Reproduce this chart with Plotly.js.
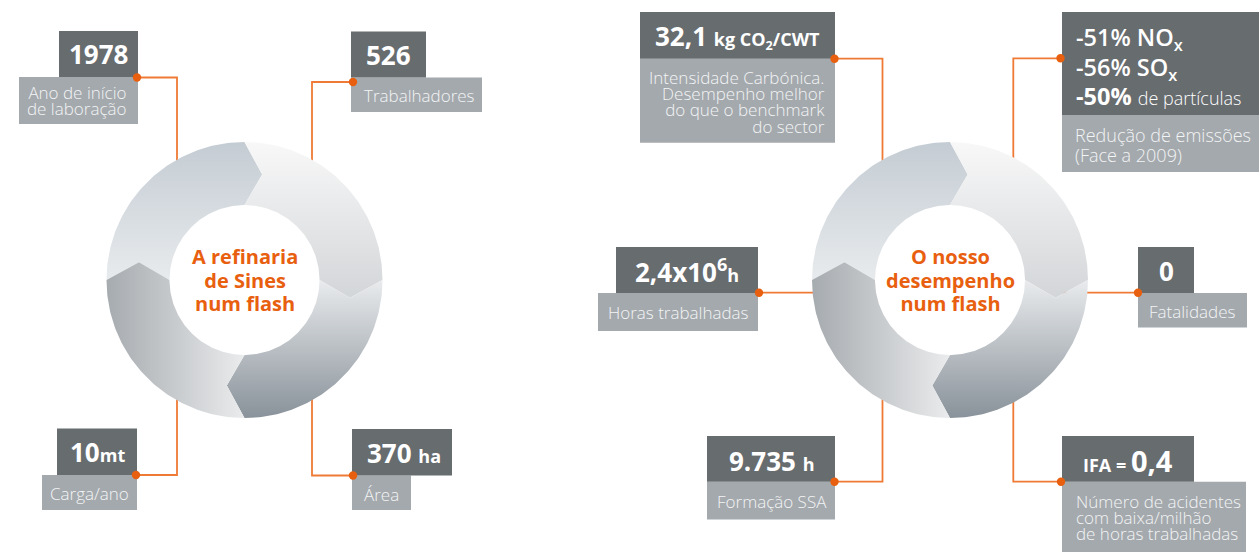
<!DOCTYPE html>
<html>
<head>
<meta charset="utf-8">
<script src="https://cdn.plot.ly/plotly-3.0.1.min.js"></script>
<style>
  html, body { margin: 0; padding: 0; background: #ffffff; }
  #chart { width: 1259px; height: 552px; }
</style>
</head>
<body>
<div id="chart"></div>
<script>
// ---------------- content ----------------
const leftTitle = ['A refinaria', 'de Sines', 'num flash'];
const rightTitle = ['O nosso', 'desempenho', 'num flash'];

const leftValues = [
  '1978',
  '526',
  '10<span style="font-size:18px">mt</span>',
  '370 <span style="font-size:18px">ha</span>'
];
const leftLabels = [
  ['Ano de início', 'de laboração'],
  ['Trabalhadores'],
  ['Carga/ano'],
  ['Área']
];

const rightValues = [
  '32,1 <span style="font-size:18px">kg CO<sub>2</sub>/CWT</span>',
  ['-51% NO<sub>x</sub>', '-56% SO<sub>x</sub>', '<b>-50%</b> <span style="font-size:18px;font-weight:300">de partículas</span>'],
  '2,4x10<sup>6</sup><span style="font-size:18px">h</span>',
  '0',
  '9.735 <span style="font-size:18px">h</span>',
  '<span style="font-size:18px">IFA = </span><span style="font-size:29px">0,4</span>'
];
const rightLabels = [
  ['Intensidade Carbónica.', 'Desempenho melhor', 'do que o benchmark', 'do sector'],
  ['Redução de emissões', '(Face a 2009)'],
  ['Horas trabalhadas'],
  ['Fatalidades'],
  ['Formação SSA'],
  ['Número de acidentes', 'com baixa/milhão', 'de horas trabalhadas']
];

// ---------------- styling / layout ----------------
const COL = {
  dark: '#676c6f', light: '#a4a9ad', orange: '#e8600f', line: '#ef7a36',
  valueText: '#ffffff', labelText: '#f3f4f5'
};
const FONT = '"Open Sans", Lato, sans-serif';
const LINE_SPACING = 1.3; // Plotly's line pitch factor

const donuts = [
  { cx: 244.5, cy: 280, title: leftTitle },
  { cx: 950, cy: 280, title: rightTitle }
];
const R_OUT = 138, R_IN = 75, R_MID = 107, TIP = 9.5;

const segStyles = [
  { a0: 180, a1: 90, type: 'vertical', from: -138, to: 5, c0: '#c4ccd3', c1: '#e9ecee' },
  { a0: 90, a1: 0, type: 'vertical', from: -138, to: 25, c0: '#f8f8f8', c1: '#d1d4d7' },
  { a0: 0, a1: -90, type: 'vertical', from: 0, to: 138, c0: '#e9ebed', c1: '#89929a' },
  { a0: -90, a1: -180, type: 'horizontal', from: -138, to: 10, c0: '#a6abaf', c1: '#eff0f1' }
];

const leftBoxes = [
  { dark: [59, 31, 138, 77], light: [19, 77, 138, 124], vx: 98.5, vy: 54, lx: 128, la: 'right', ly: 92, ls: 16.3, dot: [137, 77.5], elbow: 177 },
  { dark: [351, 31.5, 426, 77.5], light: [351, 77.5, 482, 112], vx: 388.5, vy: 54.5, lx: 363, la: 'left', ly: 95, ls: 16, dot: [353, 82], elbow: 312 },
  { dark: [57, 428.5, 137, 475], light: [42, 475, 137, 510], vx: 97.5, vy: 452, lx: 89.5, la: 'center', ly: 493, ls: 16, dot: [136, 475], elbow: 177 },
  { dark: [352, 429, 452, 475.5], light: [352, 475.5, 411, 510], vx: 404, vy: 452.5, lx: 381.5, la: 'center', ly: 494, ls: 16, dot: [353, 475.5], elbow: 312 }
];
const rightBoxes = [
  { dark: [640, 12, 835, 58.7], light: [640, 58.7, 835, 142.7], vx: 737.5, vy: 35.5, lx: 826, la: 'right', ly: 77.5, ls: 16.2, dot: [834.5, 58.7], elbow: 882.5 },
  { dark: [1062, 12, 1259, 115], light: [1062, 115, 1259, 172], vx: 1075, vy: 37, vxa: 'left', vls: 29.7, lx: 1074, la: 'left', ly: 135, ls: 20, lsize: 18, dot: [1060.5, 58.3], elbow: 1013.3 },
  { dark: [616, 247, 758, 293], light: [598, 293, 758, 331], vx: 687, vy: 270.5, lx: 678, la: 'center', ly: 312, ls: 16, dot: [759, 292.7], elbow: null },
  { dark: [1138, 247, 1194, 293], light: [1138, 293, 1247, 327.5], vx: 1166, vy: 270.5, lx: 1192.5, la: 'center', ly: 311.5, ls: 16, dot: [1138, 292.7], elbow: null },
  { dark: [707, 436, 835, 481.7], light: [707, 481.7, 835, 519.5], vx: 771.5, vy: 460.5, lx: 771.5, la: 'center', ly: 501.5, ls: 16, dot: [834.5, 481.7], elbow: 882.5 },
  { dark: [1062, 436, 1194, 481.7], light: [1062, 481.7, 1246, 552], vx: 1128, vy: 460, lx: 1075, la: 'left', ly: 502, ls: 15.8, dot: [1061, 481.7], elbow: 1013.3 }
];

// ---------------- build ----------------
const traces = [];
const shapes = [];
const annotations = [];

function pt(cx, cy, r, deg) {
  const a = deg * Math.PI / 180;
  return [cx + r * Math.cos(a), cy - r * Math.sin(a)];
}

function segment(cx, cy, a0, a1) {
  const xs = [], ys = [];
  const push = p => { xs.push(p[0]); ys.push(p[1]); };
  for (let a = a0; a >= a1 - 1e-9; a -= 1) push(pt(cx, cy, R_OUT, a));
  push(pt(cx, cy, R_MID, a1 - TIP));
  for (let a = a1; a <= a0 + 1e-9; a += 1) push(pt(cx, cy, R_IN, a));
  push(pt(cx, cy, R_MID, a0 - TIP));
  push(pt(cx, cy, R_OUT, a0));
  return { xs, ys };
}

function connector(box, donut) {
  const [dx, dy] = box.dot;
  let xs, ys;
  if (box.elbow === null) {
    const ex = dx < donut.cx ? donut.cx - R_MID : donut.cx + R_MID;
    xs = [dx, ex]; ys = [dy, dy];
  } else {
    const ddx = box.elbow - donut.cx;
    const h = Math.sqrt(R_MID * R_MID - ddx * ddx);
    const ey = dy < donut.cy ? donut.cy - h : donut.cy + h;
    xs = [dx, box.elbow, box.elbow]; ys = [dy, dy, ey];
  }
  traces.push({
    type: 'scatter', mode: 'lines', x: xs, y: ys,
    line: { color: COL.line, width: 1.8 }, hoverinfo: 'skip'
  });
}

// multi-line text block with a chosen line pitch
function block(x, yFirst, lines, pitch, size, weight, color, anchor, bold) {
  const text = lines.map(l => {
    const inner = bold ? '<b>' + l + '</b>' : l;
    return '<span style="font-size:' + size + 'px">' + inner + '</span>';
  }).join('<br>');
  annotations.push({
    x: x, y: yFirst + (lines.length - 1) * pitch / 2, xref: 'x', yref: 'y',
    text: text, showarrow: false, xanchor: anchor, yanchor: 'middle', align: anchor,
    borderpad: 0,
    font: { family: FONT, size: pitch / LINE_SPACING, color: color, weight: weight }
  });
}

leftBoxes.forEach(b => connector(b, donuts[0]));
rightBoxes.forEach(b => connector(b, donuts[1]));

donuts.forEach(d => {
  segStyles.forEach(s => {
    const g = segment(d.cx, d.cy, s.a0, s.a1);
    const base = s.type === 'vertical' ? d.cy : d.cx;
    traces.push({
      type: 'scatter', mode: 'lines', x: g.xs, y: g.ys,
      fill: 'toself', line: { width: 0, color: 'rgba(0,0,0,0)' },
      fillgradient: {
        type: s.type,
        start: base + s.from, stop: base + s.to,
        colorscale: [[0, s.c0], [1, s.c1]]
      },
      hoverinfo: 'skip'
    });
  });
  block(d.cx, d.cy - 23.5, d.title, 23.5, 20, 700, COL.orange, 'center', true);
});

function rect(r, color) {
  shapes.push({
    type: 'rect', xref: 'x', yref: 'y', layer: 'above',
    x0: r[0], y0: r[1], x1: r[2], y1: r[3],
    fillcolor: color, line: { width: 0 }
  });
}

function addBox(b, value, labels) {
  rect(b.light, COL.light);
  rect(b.dark, COL.dark);
  if (Array.isArray(value)) {
    block(b.vx, b.vy, value, b.vls, 23.5, 600, COL.valueText, b.vxa || 'center', false);
  } else {
    annotations.push({
      x: b.vx, y: b.vy, xref: 'x', yref: 'y', text: '<b>' + value + '</b>',
      showarrow: false, xanchor: 'center', yanchor: 'middle', borderpad: 0,
      font: { family: FONT, size: 26, color: COL.valueText }
    });
  }
  block(b.lx, b.ly, labels, b.ls, b.lsize || 17, 300, COL.labelText, b.la, false);
  shapes.push({
    type: 'circle', xref: 'x', yref: 'y', layer: 'above',
    x0: b.dot[0] - 4.2, x1: b.dot[0] + 4.2, y0: b.dot[1] - 4.2, y1: b.dot[1] + 4.2,
    fillcolor: COL.orange, line: { width: 0 }
  });
}

leftBoxes.forEach((b, i) => addBox(b, leftValues[i], leftLabels[i]));
rightBoxes.forEach((b, i) => addBox(b, rightValues[i], rightLabels[i]));

const layout = {
  width: 1259, height: 552,
  margin: { l: 0, r: 0, t: 0, b: 0, pad: 0 },
  paper_bgcolor: '#ffffff', plot_bgcolor: '#ffffff',
  showlegend: false,
  xaxis: { range: [0, 1259], visible: false, fixedrange: true },
  yaxis: { range: [552, 0], visible: false, fixedrange: true },
  shapes: shapes,
  annotations: annotations,
  hovermode: false
};

Plotly.newPlot('chart', traces, layout, { staticPlot: true, displayModeBar: false });
</script>
</body>
</html>
